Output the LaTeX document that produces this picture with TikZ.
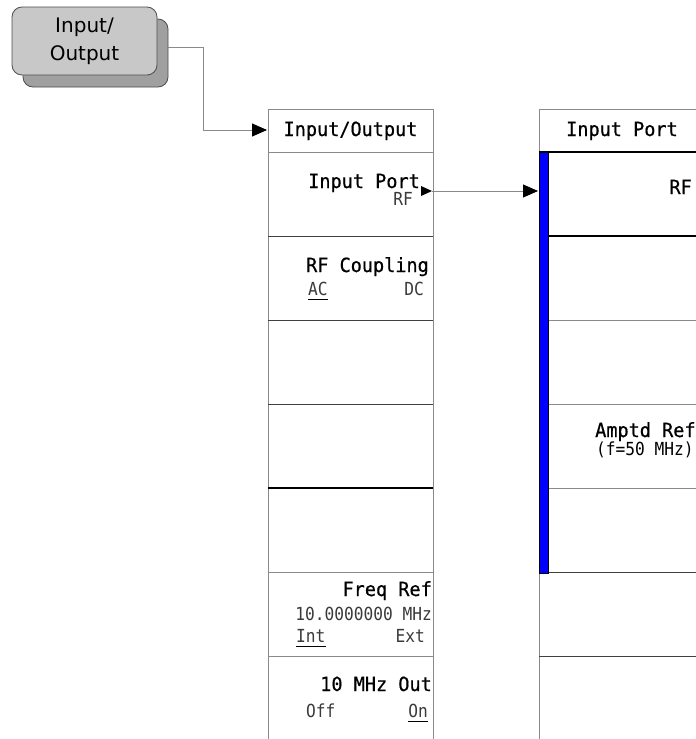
\documentclass[tikz,border=0pt]{standalone}
\usepackage{fontspec}
\setmonofont{DejaVu Sans Mono}
\newfontfamily\lblfont[FakeStretch=0.95,FakeBold=0.6]{DejaVu Sans Mono}
\newfontfamily\smlfont[FakeStretch=0.9]{DejaVu Sans Mono}
\newfontfamily\btnfont{DejaVu Sans}
\usetikzlibrary{arrows.meta}
\definecolor{btnfill}{HTML}{C8C8C8}
\definecolor{shadowfill}{HTML}{A0A0A0}
\definecolor{linegray}{HTML}{8A8A8A}
\definecolor{smallgray}{HTML}{3A3A3A}
\definecolor{barblue}{HTML}{0000FF}
\tikzset{
  conn/.style={draw=linegray, line width=0.9pt, -{Triangle[length=15pt,width=13pt,color=black]}},
  lbl/.style={inner sep=0pt, font=\fontsize{19.5}{21}\lblfont, text=black},
  sml/.style={inner sep=0pt, font=\fontsize{18}{19}\smlfont, text=smallgray},
  smlblack/.style={inner sep=0pt, font=\fontsize{18}{19}\smlfont, text=black},
  frame/.style={draw=linegray, line width=0.9pt},
  sepgray/.style={draw=linegray, line width=0.9pt},
  sepdark/.style={draw=black!75, line width=1pt},
  sepblack/.style={draw=black, line width=2pt},
  btn/.style={draw=black!70, line width=0.8pt, rounded corners=10pt, fill=btnfill,
    minimum width=145pt, minimum height=68pt, align=center,
    font=\fontsize{20}{28}\selectfont\btnfont, inner sep=0pt},
  uline/.style={draw=black, line width=0.9pt}
}
\begin{document}
\begin{tikzpicture}[x=1pt,y=-1pt]
\useasboundingbox (0,0) rectangle (696,739);
\begin{scope}
\clip (0,0) rectangle (696,739);
% ---- button ----
\draw[draw=black!70, line width=0.8pt, rounded corners=10pt, fill=shadowfill] (23,19) rectangle (168,87);
\node[btn] (btn) at (84.5,41) {Input/\\Output};
\coordinate (btnout) at (168,47);
\coordinate (bend1) at (203,47);
\coordinate (bend2) at (203,130);
\coordinate (lpin) at (267,130);
\draw[conn] (btnout) -- (bend1) -- (bend2) -- (lpin);

% ---- left panel ----
\draw[frame] (268,739) -- (268,109) -- (433,109) -- (433,739);
\draw[sepgray] (268,152) -- (433,152);
\draw[sepdark] (268,236) -- (433,236);
\draw[sepdark] (268,320) -- (433,320);
\draw[sepdark] (268,404) -- (433,404);
\draw[draw=black, line width=1.2pt] (268,488) -- (433,488);
\draw[sepgray] (268,572) -- (433,572);
\draw[sepgray] (268,656) -- (433,656);

\node[lbl, anchor=base] (lt) at (350.5,136) {Input/Output};
\node[lbl, anchor=base east] (ip) at (420,188) {Input Port};
\node[sml, anchor=base east] (iprf) at (413,205) {RF};
\fill[black] (421,186) -- (432,191) -- (421,196) -- cycle;
\node[lbl, anchor=base east] (rfc) at (429,272) {RF Coupling};
\node[sml, anchor=base west] (ac) at (308,295) {AC};
\node[sml, anchor=base east] (dc) at (424,295) {DC};
\draw[uline] ([yshift=-4pt]ac.base west) -- ([yshift=-4pt]ac.base east);
\node[lbl, anchor=base east] (fr) at (432,596) {Freq Ref};
\node[sml, anchor=base east] (frv) at (432,620) {10.0000000 MHz};
\node[sml, anchor=base west] (int) at (296,642) {Int};
\node[sml, anchor=base east] (ext) at (425,642) {Ext};
\draw[uline] ([yshift=-4pt]int.base west) -- ([yshift=-4pt]int.base east);
\node[lbl, anchor=base east] (mo) at (432,691) {10 MHz Out};
\node[sml, anchor=base west] (off) at (306,717) {Off};
\node[sml, anchor=base east] (on) at (428,717) {On};
\draw[uline] ([yshift=-4pt]on.base west) -- ([yshift=-4pt]on.base east);

% ---- connector ----
\coordinate (ipout) at (432,191);
\coordinate (rpin) at (538,191);
\draw[conn] (ipout) -- (rpin);

% ---- right panel ----
\draw[frame] (539,739) -- (539,109) -- (705,109) -- (705,739);
\draw[sepgray] (539,320) -- (705,320);
\draw[sepgray] (539,404) -- (705,404);
\draw[sepgray] (539,488) -- (705,488);
\draw[sepdark] (539,572) -- (705,572);
\draw[sepdark] (539,656) -- (705,656);
\draw[sepblack] (539,152) -- (705,152);
\draw[sepblack] (539,236) -- (705,236);
\filldraw[fill=barblue, draw=black, line width=0.5pt] (539,152) rectangle (548,573);

\node[lbl, anchor=base] (rt) at (622,136) {Input Port};
\node[lbl, anchor=base east] (rrf) at (692,194) {RF};
\node[lbl, anchor=base west] (ar) at (595,437) {Amptd Ref};
\node[smlblack, anchor=base west] (arf) at (596,455) {(f=50 MHz)};
\end{scope}
\end{tikzpicture}
\end{document}
